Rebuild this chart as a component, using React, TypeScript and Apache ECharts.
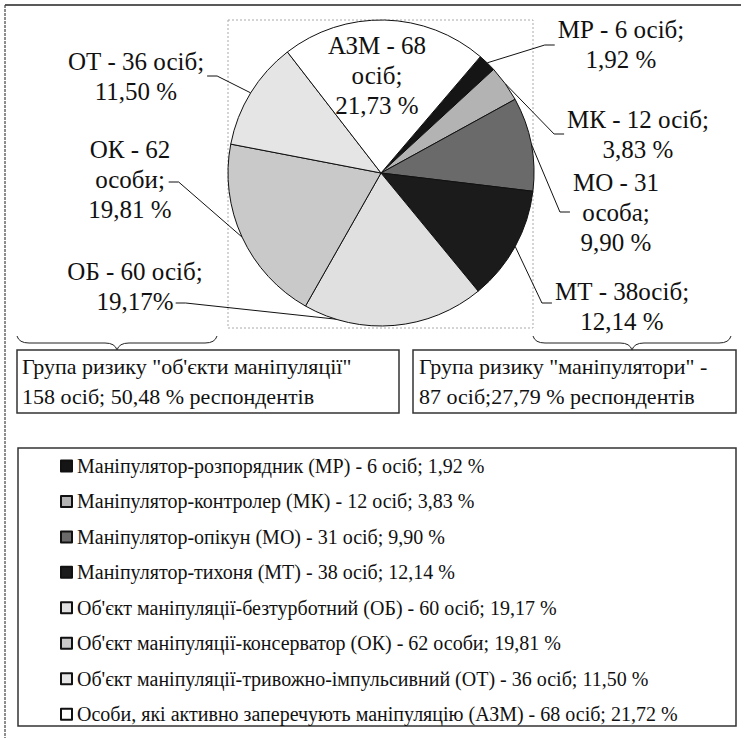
import React, { useEffect, useRef } from "react";
import * as echarts from "echarts";

// ---- data ----
const codes = ["МР", "МК", "МО", "МТ", "ОБ", "ОК", "ОТ", "АЗМ"];
const counts = [6, 12, 31, 38, 60, 62, 36, 68];
const sliceLabels = [
  "МР - 6 осіб;\n1,92 %",
  "МК - 12 осіб;\n3,83 %",
  "МО - 31\nособа;\n9,90 %",
  "МТ - 38осіб;\n12,14 %",
  "ОБ - 60 осіб;\n19,17%",
  "ОК - 62\nособи;\n19,81 %",
  "ОТ - 36 осіб;\n11,50 %",
  "АЗМ - 68\nосіб;\n21,73 %",
];
const legendTexts = [
  "Маніпулятор-розпорядник (МР) - 6 осіб; 1,92 %",
  "Маніпулятор-контролер (МК) - 12 осіб; 3,83 %",
  "Маніпулятор-опікун (МО) - 31 осіб; 9,90 %",
  "Маніпулятор-тихоня (МТ) - 38 осіб; 12,14 %",
  "Об'єкт маніпуляції-безтурботний (ОБ) - 60 осіб; 19,17 %",
  "Об'єкт маніпуляції-консерватор (ОК) - 62 особи; 19,81 %",
  "Об'єкт маніпуляції-тривожно-імпульсивний (ОТ) - 36 осіб; 11,50 %",
  "Особи, які активно заперечують маніпуляцію (АЗМ) - 68 осіб; 21,72 %",
];
const groupObjects = ["Група ризику \"об'єкти маніпуляції\"", "158 осіб; 50,48 % респондентів"];
const groupManipulators = ["Група ризику \"маніпулятори\" -", "87 осіб;27,79 % респондентів"];

// ---- styles / layout ----
const sliceColors = ["#151515", "#b3b3b3", "#6a6a6a", "#1b1b1b", "#e0e0e0", "#c9c9c9", "#e5e5e5", "#ffffff"];
const labelPos: { x: number; y: number; side: string; dy?: number; dx?: number }[] = [
  { x: 621, y: 44, side: "r", dy: 1 },
  { x: 638, y: 134, side: "r" },
  { x: 616, y: 212, side: "r" },
  { x: 622, y: 306, side: "r", dy: -3 },
  { x: 135, y: 286, side: "l", dy: 17, dx: -30 },
  { x: 130, y: 179, side: "l", dy: 3, dx: -6 },
  { x: 136, y: 76, side: "l" },
  { x: 377, y: 75, side: "" },
];
const FONT = "Liberation Serif";

function brace(x0: number, x1: number, y0: number): any[] {
  const mid = (x0 + x1) / 2;
  const ym = y0 + 7;
  const yt = y0 + 14;
  const st = { fill: "none", stroke: "#222", lineWidth: 1 };
  return [
    { type: "bezierCurve", z: 1, shape: { x1: x0, y1: y0, cpx1: x0 + 2, cpy1: ym, x2: x0 + 12, y2: ym }, style: st },
    { type: "line", z: 1, shape: { x1: x0 + 12, y1: ym, x2: mid - 12, y2: ym }, style: st },
    { type: "bezierCurve", z: 1, shape: { x1: mid - 12, y1: ym, cpx1: mid - 2, cpy1: ym, x2: mid, y2: yt }, style: st },
    { type: "bezierCurve", z: 1, shape: { x1: mid, y1: yt, cpx1: mid + 2, cpy1: ym, x2: mid + 12, y2: ym }, style: st },
    { type: "line", z: 1, shape: { x1: mid + 12, y1: ym, x2: x1 - 12, y2: ym }, style: st },
    { type: "bezierCurve", z: 1, shape: { x1: x1 - 12, y1: ym, cpx1: x1 - 2, cpy1: ym, x2: x1, y2: y0 }, style: st },
  ];
}

export default function App() {
  const ref = useRef<HTMLDivElement>(null);
  useEffect(() => {
    if (!ref.current) return;
    const chart = echarts.init(ref.current, undefined, { renderer: "svg" });
    const data = codes.map((c, i) => {
      const item: any = { name: c, value: counts[i], itemStyle: { color: sliceColors[i] } };
      if (i === codes.length - 1) item.labelLine = { show: false };
      return item;
    });
    const textBox = (lines: string[], x: number, y: number) =>
      lines.map((t, k) => ({
        type: "text",
        x,
        y: y + k * 30 - 11,
        style: { text: t, fontFamily: FONT, fontSize: 22, fill: "#111" },
      }));
    const option: any = {
      animation: false,
      legend: {
        orient: "vertical",
        left: 55,
        top: 451,
        itemWidth: 11,
        itemHeight: 11,
        itemGap: 15.45,
        icon: "rect",
        selectedMode: false,
        data: codes,
        formatter: (name: string) => legendTexts[codes.indexOf(name)],
        textStyle: { fontFamily: FONT, fontSize: 20, color: "#111", lineHeight: 20 },
      },
      graphic: [
        { type: "line", z: 1, shape: { x1: 5, y1: 5, x2: 741, y2: 5 }, style: { stroke: "#222", lineWidth: 1.5 } },
        { type: "line", z: 1, shape: { x1: 5, y1: 5, x2: 5, y2: 738 }, style: { stroke: "#444", lineWidth: 1.2, lineDash: [3, 1] } },
        { type: "rect", z: 0, shape: { x: 228, y: 20, width: 305, height: 308 }, style: { fill: "none", stroke: "#aaa", lineWidth: 1, lineDash: [2, 2] } },
        ...brace(17, 217, 336),
        ...brace(533, 731, 336),
        { type: "rect", z: 1, shape: { x: 17, y: 350, width: 382, height: 63 }, style: { fill: "none", stroke: "#333", lineWidth: 1.5 } },
        { type: "rect", z: 1, shape: { x: 413, y: 350, width: 323, height: 63 }, style: { fill: "none", stroke: "#333", lineWidth: 1.5 } },
        { type: "rect", z: 1, shape: { x: 18, y: 448, width: 718, height: 278 }, style: { fill: "none", stroke: "#333", lineWidth: 1.5 } },
        ...textBox(groupObjects, 22, 366),
        ...textBox(groupManipulators, 419, 366),
      ],
      series: [
        {
          type: "pie",
          center: [381, 173],
          radius: 153,
          startAngle: 49.5,
          clockwise: true,
          avoidLabelOverlap: false,
          itemStyle: { borderColor: "#111", borderWidth: 1 },
          emphasis: { disabled: true },
          label: {
            show: true,
            position: "outside",
            formatter: (p: any) => sliceLabels[p.dataIndex],
            fontFamily: FONT,
            fontSize: 25,
            lineHeight: 30,
            color: "#111",
            align: "center",
          },
          labelLine: { show: true, length: 10, length2: 10, smooth: false, lineStyle: { color: "#111", width: 1 } },
          labelLayout: (params: any) => {
            const i = params.dataIndex;
            const p = labelPos[i];
            const w = params.labelRect.width;
            const res: any = { x: p.x, y: p.y, align: "center", verticalAlign: "middle" };
            const pts = params.labelLinePoints;
            if (pts && pts.length && p.side) {
              const a = pts[0];
              const ey = p.y + (p.dy || 0);
              if (p.side === "r") {
                const ex = p.x - w / 2 - 3 + (p.dx || 0);
                res.labelLinePoints = [a, [ex - 10, ey], [ex, ey]];
              } else {
                const ex = p.x + w / 2 + 3 + (p.dx || 0);
                res.labelLinePoints = [a, [ex + 10, ey], [ex, ey]];
              }
            }
            return res;
          },
          data,
        },
      ],
    };
    chart.setOption(option);
    return () => chart.dispose();
  }, []);
  return (
    <div
      ref={ref}
      style={{ position: "absolute", left: 0, top: 0, width: 746, height: 738, fontFamily: "Liberation Serif" }}
    />
  );
}
